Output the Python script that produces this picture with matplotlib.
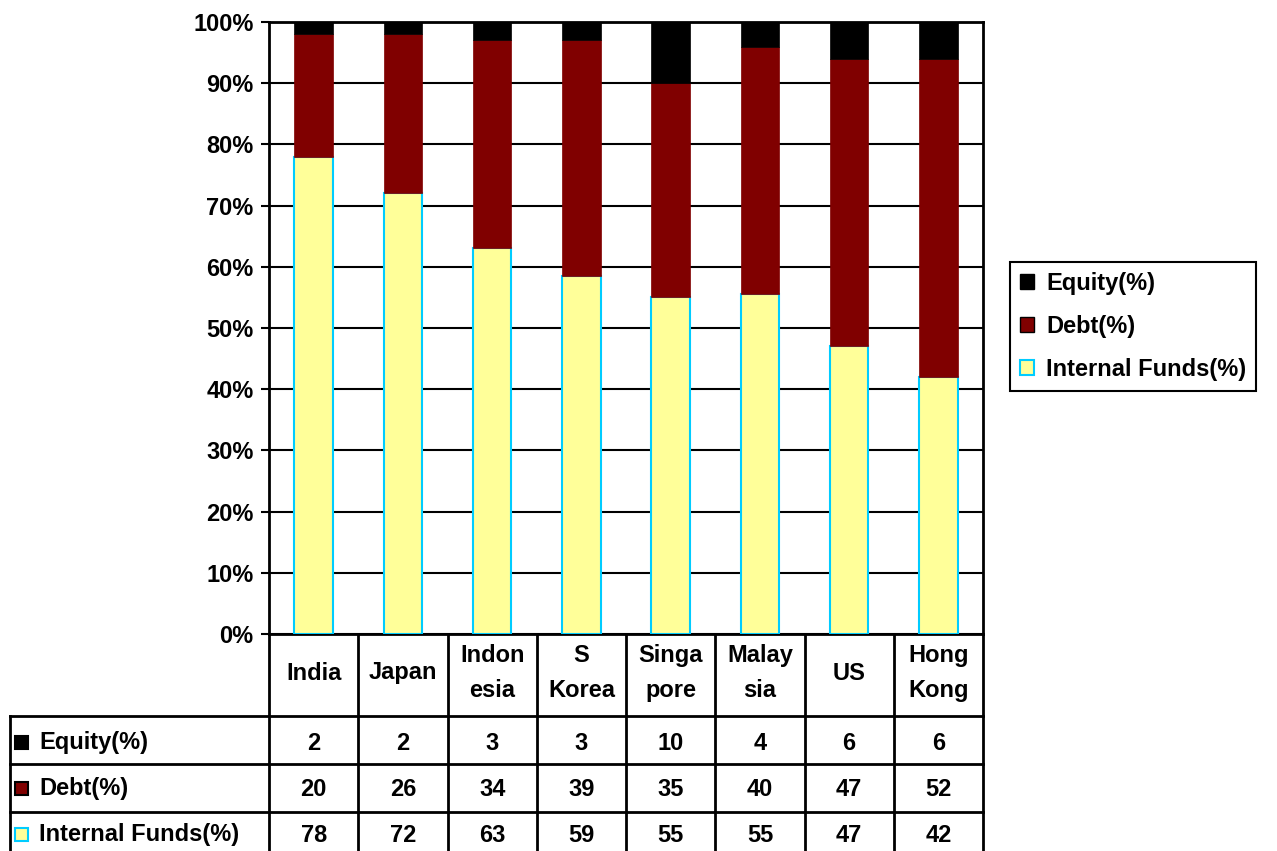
import numpy as np
import matplotlib.pyplot as plt
from matplotlib.patches import Patch, Rectangle

plt.rcParams['font.family'] = ['Liberation Sans', 'DejaVu Sans']
plt.rcParams['font.weight'] = 'bold'

countries = ["India", "Japan", "Indon\nesia", "S\nKorea", "Singa\npore", "Malay\nsia", "US", "Hong\nKong"]
equity = [2, 2, 3, 3, 10, 4, 6, 6]
debt = [20, 26, 34, 39, 35, 40, 47, 52]
internal = [78, 72, 63, 59, 55, 55, 47, 42]
series_names = ["Equity(%)", "Debt(%)", "Internal Funds(%)"]

c_int, c_int_edge = "#FFFF99", "#00CCFF"
c_debt = "#800000"
c_eq = "#000000"

W, H = 1277, 851
fig = plt.figure(figsize=(W / 100, H / 100), dpi=100)
fs = 17

# plot area in pixels
L, R, T, B = 269, 983, 22, 634
ax = fig.add_axes([L / W, 1 - B / H, (R - L) / W, (B - T) / H])

tot = np.array(equity) + np.array(debt) + np.array(internal)
p_int = np.array(internal) / tot * 100
p_debt = np.array(debt) / tot * 100
p_eq = np.array(equity) / tot * 100

x = np.arange(len(countries))
bw = 0.43
ax.bar(x, p_int, bw, color=c_int, edgecolor=c_int_edge, linewidth=1.5, zorder=3)
ax.bar(x, p_debt, bw, bottom=p_int, color=c_debt, edgecolor=c_debt, linewidth=0.5, zorder=3)
ax.bar(x, p_eq, bw, bottom=p_int + p_debt, color=c_eq, edgecolor=c_eq, linewidth=0.5, zorder=3)

ax.set_xlim(-0.5, len(countries) - 0.5)
ax.set_ylim(0, 100)
ax.set_yticks(np.arange(0, 101, 10))
ax.set_yticklabels([f"{v}%" for v in range(0, 101, 10)], fontsize=17, fontweight='bold')
ax.set_xticks([])
ax.yaxis.grid(True, color='black', linewidth=1.5, zorder=0)
ax.tick_params(axis='y', length=6, width=1.5, pad=5)
for s in ax.spines.values():
    s.set_linewidth(2)
    s.set_color('black')

# data table drawn in pixel space
ov = fig.add_axes([0, 0, 1, 1], zorder=-1)
ov.set_xlim(0, W)
ov.set_ylim(H, 0)
ov.axis('off')

colw = (R - L) / len(countries)
edges = [L + i * colw for i in range(len(countries) + 1)]
row_y = [716, 764, 812, 860]
row_c = [743, 789, 835]
lw = 2

for e in edges:
    ov.plot([e, e], [B, H + 5], color='black', lw=lw)
ov.plot([10, 10], [row_y[0], H + 5], color='black', lw=lw)
for y in row_y[:3]:
    ov.plot([10, R], [y, y], color='black', lw=lw)

for i, name in enumerate(countries):
    cx = L + (i + 0.5) * colw
    ov.text(cx, 673, name, ha='center', va='center', fontsize=fs,
            fontweight='bold', linespacing=1.65)

rows = [equity, debt, internal]
colors = [(c_eq, c_eq), (c_debt, 'black'), (c_int, c_int_edge)]
for r, (vals, nm, (fc, ec)) in enumerate(zip(rows, series_names, colors)):
    cy = row_c[r]
    ov.add_patch(Rectangle((15, cy - 7), 13, 13, facecolor=fc, edgecolor=ec, lw=1.5))
    ov.text(39, cy, nm, ha='left', va='center', fontsize=fs, fontweight='bold')
    for i, v in enumerate(vals):
        ov.text(L + (i + 0.5) * colw, cy, str(v), ha='center', va='center',
                fontsize=fs, fontweight='bold')

handles = [Patch(facecolor=c_eq, edgecolor=c_eq, label=series_names[0]),
           Patch(facecolor=c_debt, edgecolor='black', label=series_names[1]),
           Patch(facecolor=c_int, edgecolor=c_int_edge, linewidth=1.5, label=series_names[2])]
leg = fig.legend(handles=handles, loc='upper left', bbox_to_anchor=(1010 / W, 1 - 262 / H),
                 fancybox=False, edgecolor='black', framealpha=1, fontsize=fs,
                 handlelength=0.6, handleheight=0.6, handletextpad=0.5,
                 labelspacing=0.85, borderpad=0.42, borderaxespad=0)
leg.get_frame().set_linewidth(1.5)
for t in leg.get_texts():
    t.set_fontweight('bold')

fig.savefig("out.png", dpi=100)
